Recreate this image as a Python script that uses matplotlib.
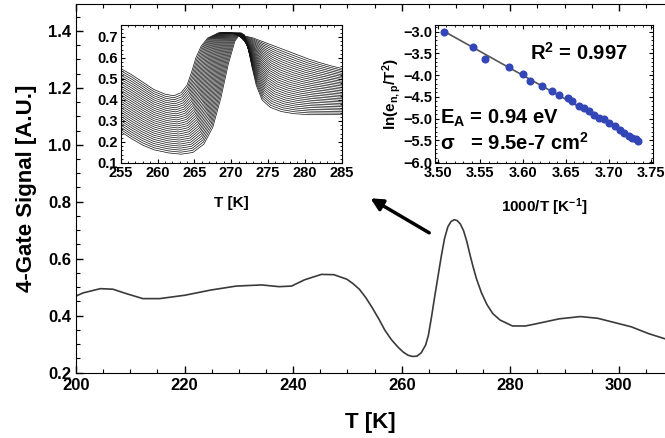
import numpy as np
import matplotlib.pyplot as plt
from matplotlib.ticker import MultipleLocator

plt.rcParams['font.family'] = ['Liberation Sans', 'DejaVu Sans']
plt.rcParams['font.weight'] = 'bold'
plt.rcParams['axes.labelweight'] = 'bold'
plt.rcParams['mathtext.fontset'] = 'custom'
plt.rcParams['mathtext.rm'] = 'Liberation Sans:bold'
plt.rcParams['mathtext.it'] = 'Liberation Sans:bold'
plt.rcParams['mathtext.bf'] = 'Liberation Sans:bold'

# main 4-gate signal
temp = [200, 201.3, 204.5, 206.8, 209.2, 212.3, 215.4, 220.1, 224.8, 229.5, 234.2,
        237.4, 239.7, 242.1, 245.2, 247.5, 249.9, 251.0, 252.2, 253.4, 254.6, 255.8,
        256.9, 258.1, 259.3, 260.3, 261.2, 262.0, 262.8, 263.6, 264.4, 264.9, 265.5,
        266.1, 266.7, 267.3, 267.9, 268.5, 269.1, 269.7, 270.2, 270.8, 271.4, 272.0,
        272.6, 273.2, 273.8, 274.7, 275.7, 276.8, 278.1, 280.4, 282.8, 285.1, 289.0,
        292.9, 296.1, 299.2, 302.3, 305.5, 308.5]
signal = [0.469, 0.480, 0.495, 0.493, 0.478, 0.460, 0.460, 0.472, 0.490, 0.504, 0.508,
          0.502, 0.504, 0.526, 0.545, 0.544, 0.528, 0.513, 0.493, 0.463, 0.427, 0.388,
          0.349, 0.316, 0.290, 0.272, 0.261, 0.257, 0.258, 0.270, 0.297, 0.330, 0.397,
          0.470, 0.540, 0.610, 0.672, 0.712, 0.731, 0.737, 0.734, 0.722, 0.698, 0.660,
          0.612, 0.568, 0.528, 0.480, 0.439, 0.407, 0.385, 0.364, 0.364, 0.373, 0.389,
          0.397, 0.391, 0.376, 0.361, 0.337, 0.319]

# inset 1: family of rate-window spectra, outer (broadest) and inner (narrowest)
# curve, points matched feature by feature
outer_T = [255, 256.5, 258, 259.5, 261, 262.2, 263.2, 264.0, 264.6, 265.2, 265.9, 266.8,
           268.3, 270, 271.5, 273, 274.5, 276, 277.5, 279, 280.5, 282, 283.5, 285]
outer_v = [0.55, 0.52, 0.485, 0.45, 0.428, 0.42, 0.435, 0.47, 0.53, 0.60, 0.655, 0.695,
           0.72, 0.718, 0.708, 0.695, 0.675, 0.655, 0.635, 0.615, 0.595, 0.578, 0.563, 0.55]
inner_T = [255, 256.5, 258, 259.5, 261.5, 263.2, 264.8, 266.3, 267.5, 268.6, 269.6, 270.5,
           271.3, 271.8, 272.3, 272.8, 273.4, 274.2, 275.3, 276.8, 278.5, 280.5, 282.7, 285]
inner_v = [0.25, 0.215, 0.185, 0.163, 0.148, 0.142, 0.15, 0.19, 0.27, 0.41, 0.57, 0.68,
           0.72, 0.71, 0.65, 0.56, 0.47, 0.40, 0.365, 0.345, 0.335, 0.33, 0.33, 0.33]
n_curves = 30

# inset 2: Arrhenius plot
inv_T = [3.508, 3.542, 3.556, 3.583, 3.600, 3.608, 3.622, 3.634, 3.642, 3.652, 3.657,
         3.665, 3.671, 3.677, 3.683, 3.689, 3.695, 3.701, 3.707, 3.713, 3.718, 3.724,
         3.728, 3.732, 3.734]
ln_e = [-3.01, -3.35, -3.62, -3.82, -3.98, -4.14, -4.25, -4.37, -4.45, -4.52, -4.60,
        -4.70, -4.75, -4.83, -4.91, -4.98, -5.02, -5.10, -5.18, -5.27, -5.33, -5.39,
        -5.45, -5.48, -5.51]


def frame(a, size):
    a.tick_params(which='both', direction='in', labelsize=size)
    for lab in a.get_xticklabels() + a.get_yticklabels():
        lab.set_fontweight('bold')


fig = plt.figure(figsize=(6.65, 4.38), dpi=100)
ax = fig.add_axes([76 / 665, 65.3 / 438, 589 / 665, 368.7 / 438])
ax.plot(temp, signal, color='#3a3a3a', lw=1.2)
ax.set_xlim(200, 308.5)
ax.set_ylim(0.2, 1.494)
ax.xaxis.set_major_locator(MultipleLocator(20))
ax.xaxis.set_minor_locator(MultipleLocator(5))
ax.yaxis.set_major_locator(MultipleLocator(0.2))
ax.yaxis.set_minor_locator(MultipleLocator(0.05))
ax.tick_params(which='both', top=True, right=False)
ax.tick_params(which='major', length=5, width=1)
ax.tick_params(which='minor', length=3, width=0.8)
frame(ax, 12)
ax.spines['right'].set_visible(False)
ax.set_xlabel('T [K]', fontsize=16, labelpad=14)
ax.set_ylabel('4-Gate Signal [A.U.]', fontsize=16, labelpad=8)
ax.annotate('', xy=(253.8, 0.817), xytext=(265.5, 0.686),
            arrowprops=dict(arrowstyle='-|>', lw=2.5, color='black', mutation_scale=18))

# inset 1
ax1 = fig.add_axes([120.7 / 665, 275 / 438, 221 / 665, 138 / 438])
for k in range(n_curves):
    w = k / (n_curves - 1)
    tt = (1 - w) * np.array(outer_T) + w * np.array(inner_T)
    vv = (1 - w) * np.array(outer_v) + w * np.array(inner_v)
    ax1.plot(tt, vv, color='#111111', lw=0.5)
ax1.set_xlim(255, 285)
ax1.set_ylim(0.1, 0.757)
ax1.xaxis.set_major_locator(MultipleLocator(5))
ax1.xaxis.set_minor_locator(MultipleLocator(1))
ax1.yaxis.set_major_locator(MultipleLocator(0.1))
ax1.yaxis.set_minor_locator(MultipleLocator(0.02))
ax1.tick_params(which='both', top=True, right=True, pad=2)
ax1.tick_params(which='major', length=3)
ax1.tick_params(which='minor', length=1.5)
frame(ax1, 10.5)
ax1.set_xlabel('T [K]', fontsize=11, labelpad=12)

# inset 2
ax2 = fig.add_axes([435 / 665, 275 / 438, 218 / 665, 138 / 438])
fit = np.polyfit(inv_T, ln_e, 1)
fx = np.array([inv_T[0], inv_T[-1]])
ax2.plot(fx, np.polyval(fit, fx), color='#555555', lw=1.2)
ax2.plot(inv_T, ln_e, 'o', color='#3346b8', ms=4.8)
ax2.set_xlim(3.497, 3.752)
ax2.set_ylim(-6.02, -2.85)
ax2.xaxis.set_major_locator(MultipleLocator(0.05))
ax2.xaxis.set_minor_locator(MultipleLocator(0.01))
ax2.yaxis.set_major_locator(MultipleLocator(0.5))
ax2.yaxis.set_minor_locator(MultipleLocator(0.1))
ax2.tick_params(which='both', top=True, right=True, pad=2)
ax2.tick_params(which='major', length=3)
ax2.tick_params(which='minor', length=1.5)
frame(ax2, 10.5)
ax2.set_xlabel('1000/T [K$^{-1}$]', fontsize=11, labelpad=12)
ax2.set_ylabel('ln(e$_{n,p}$/T$^2$)', fontsize=11, labelpad=0)
ax2.text(0.436, 0.80, 'R$^2$ = 0.997', transform=ax2.transAxes, fontsize=14.5, va='center')
ax2.text(0.023, 0.326, 'E$_A$ = 0.94 eV', transform=ax2.transAxes, fontsize=14.5, va='center')
ax2.text(0.023, 0.145, 'σ   = 9.5e-7 cm$^2$', transform=ax2.transAxes, fontsize=14.5, va='center')

fig.savefig('out.png', dpi=100)
